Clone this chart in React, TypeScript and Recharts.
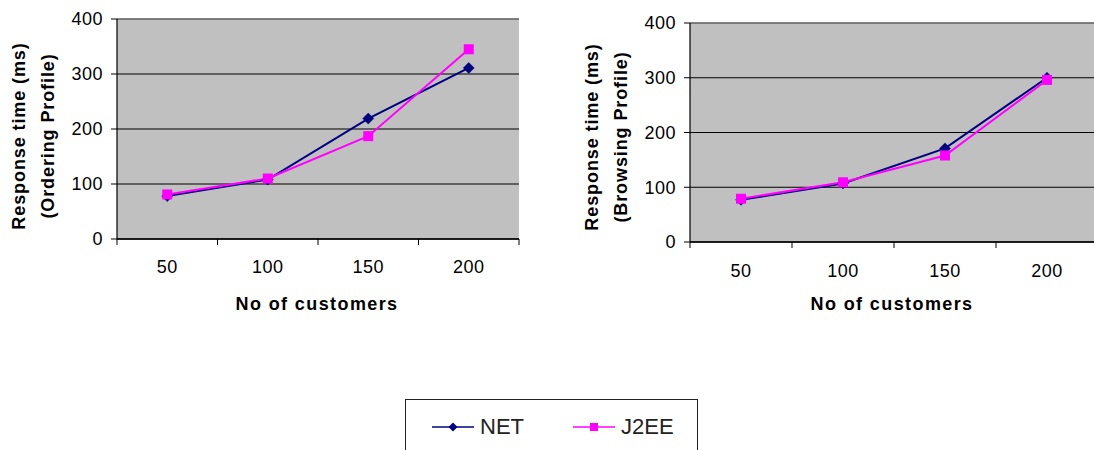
import React from 'react'
import {
  CartesianGrid,
  Line,
  LineChart,
  ReferenceLine,
  XAxis,
  YAxis,
} from 'recharts'

const customers = ['50', '100', '150', '200']
const orderingNet = [78, 108, 219, 311]
const orderingJ2ee = [81, 110, 187, 345]
const browsingNet = [77, 107, 171, 300]
const browsingJ2ee = [79, 109, 158, 296]
const yTicks = [0, 100, 200, 300, 400]

const FONT = '"Liberation Sans", Arial, sans-serif'
const NAVY = '#000080'
const PINK = '#ff00ff'

const buildRows = (net: number[], j2ee: number[]) =>
  customers.map((c, i) => ({ customers: c, net: net[i], j2ee: j2ee[i] }))

const Diamond = ({ cx, cy }: any) => {
  if (cx == null || cy == null) return null
  const r = 5.5
  return (
    <polygon
      points={`${cx},${cy - r} ${cx + r},${cy} ${cx},${cy + r} ${cx - r},${cy}`}
      fill={NAVY}
      stroke={NAVY}
      strokeWidth={0.5}
    />
  )
}

const Square = ({ cx, cy }: any) => {
  if (cx == null || cy == null) return null
  return <rect x={cx - 5} y={cy - 5} width={10} height={10} fill={PINK} />
}

type PanelProps = {
  left: number
  width: number
  height: number
  plotLeft: number
  plotTop: number
  plotBottom: number
  plotRight: number
  net: number[]
  j2ee: number[]
  titleLines: string[]
  titleX: number[]
  titleY: number
  xTitleX: number
  labelGap: number
}

const Panel = (p: PanelProps) => {
  const rows = buildRows(p.net, p.j2ee)
  const plotW = p.plotRight - p.plotLeft
  const band = plotW / customers.length

  // category ticks: label in the middle of each band, tick marks on the band edges
  const XTick = ({ x, payload, index }: any) => (
    <g>
      <line x1={x - band / 2} x2={x - band / 2} y1={p.plotBottom} y2={p.plotBottom + 6} stroke="#000" />
      {index === customers.length - 1 && (
        <line x1={x + band / 2} x2={x + band / 2} y1={p.plotBottom} y2={p.plotBottom + 6} stroke="#000" />
      )}
      <text
        x={x}
        y={p.plotBottom + p.labelGap}
        textAnchor="middle"
        fontFamily={FONT}
        fontSize={18}
        letterSpacing={0.5}
        fill="#000"
      >
        {payload.value}
      </text>
    </g>
  )

  return (
    <div style={{ position: 'absolute', left: p.left, top: 0 }}>
      <LineChart
        width={p.width}
        height={p.height}
        data={rows}
        margin={{ top: p.plotTop, right: p.width - p.plotRight, bottom: 0, left: 0 }}
      >
        <CartesianGrid vertical={false} stroke="#000" fill="#c0c0c0" fillOpacity={1} />
        <ReferenceLine y={400} stroke="#808080" strokeWidth={1.5} />
        <XAxis
          dataKey="customers"
          height={p.height - p.plotBottom}
          padding={{ left: band / 2, right: band / 2 }}
          axisLine={{ stroke: '#000', strokeWidth: 1.5 }}
          tickLine={false}
          tickSize={0}
          tickMargin={0}
          interval={0}
          tick={<XTick />}
          label={{
            content: () => (
              <text
                x={p.xTitleX}
                y={310}
                textAnchor="middle"
                fontFamily={FONT}
                fontSize={18}
                fontWeight="bold"
                letterSpacing={1.4}
                fill="#000"
              >
                No of customers
              </text>
            ),
          }}
        />
        <YAxis
          width={p.plotLeft}
          domain={[0, 400]}
          ticks={yTicks}
          allowDataOverflow
          axisLine={{ stroke: '#000', strokeWidth: 1.2 }}
          tickLine={{ stroke: '#000' }}
          tickSize={6}
          tickMargin={8}
          tick={{ fill: '#000', fontSize: 18, fontFamily: FONT, letterSpacing: 0.5 }}
          label={{
            content: () => (
              <g>
                {p.titleLines.map((t, i) => (
                  <text
                    key={t}
                    x={p.titleX[i]}
                    y={p.titleY}
                    transform={`rotate(-90 ${p.titleX[i]} ${p.titleY})`}
                    textAnchor="middle"
                    dominantBaseline="central"
                    fontFamily={FONT}
                    fontSize={18}
                    fontWeight="bold"
                    letterSpacing={0.9}
                    fill="#000"
                  >
                    {t}
                  </text>
                ))}
              </g>
            ),
          }}
        />
        <YAxis
          yAxisId="edge"
          orientation="right"
          width={0}
          domain={[0, 400]}
          axisLine={{ stroke: '#808080', strokeWidth: 1.5 }}
          tick={false}
          tickLine={false}
        />
        <Line
          dataKey="net"
          stroke={NAVY}
          strokeWidth={2}
          dot={<Diamond />}
          activeDot={false}
          isAnimationActive={false}
        />
        <Line
          dataKey="j2ee"
          stroke={PINK}
          strokeWidth={2}
          dot={<Square />}
          activeDot={false}
          isAnimationActive={false}
        />
      </LineChart>
    </div>
  )
}

const LegendItem = ({ label, color, marker, left }: any) => (
  <div style={{ position: 'absolute', left, top: 14, display: 'flex', alignItems: 'center' }}>
    <svg width={42} height={26}>
      <line x1={0} x2={42} y1={13} y2={13} stroke={color} strokeWidth={1.5} />
      {marker === 'diamond' ? (
        <polygon points="21,8.5 25.5,13 21,17.5 16.5,13" fill={color} />
      ) : (
        <rect x={17} y={9} width={8} height={8} fill={color} />
      )}
    </svg>
    <span
      style={{
        marginLeft: 6,
        fontFamily: FONT,
        fontSize: 22,
        color: '#222',
        lineHeight: '26px',
      }}
    >
      {label}
    </span>
  </div>
)

export default function App() {
  return (
    <div
      style={{
        position: 'absolute',
        left: 0,
        top: 0,
        width: 1094,
        height: 450,
        overflow: 'hidden',
        background: '#fff',
      }}
    >
      <Panel
        left={0}
        width={540}
        height={330}
        plotLeft={117}
        plotTop={19}
        plotBottom={239}
        plotRight={519}
        net={orderingNet}
        j2ee={orderingJ2ee}
        titleLines={['Response time (ms)', '(Ordering Profile)']}
        titleX={[19, 48]}
        titleY={136}
        xTitleX={317}
        labelGap={34}
      />
      <Panel
        left={560}
        width={540}
        height={330}
        plotLeft={130}
        plotTop={23}
        plotBottom={242}
        plotRight={538}
        net={browsingNet}
        j2ee={browsingJ2ee}
        titleLines={['Response time (ms)', '(Browsing Profile)']}
        titleX={[32, 61]}
        titleY={137}
        xTitleX={332}
        labelGap={35}
      />
      <div
        style={{
          position: 'absolute',
          left: 405,
          top: 399,
          width: 291,
          height: 70,
          border: '1px solid #222',
        }}
      >
        <LegendItem label="NET" color={NAVY} marker="diamond" left={26} />
        <LegendItem label="J2EE" color={PINK} marker="square" left={167} />
      </div>
    </div>
  )
}
